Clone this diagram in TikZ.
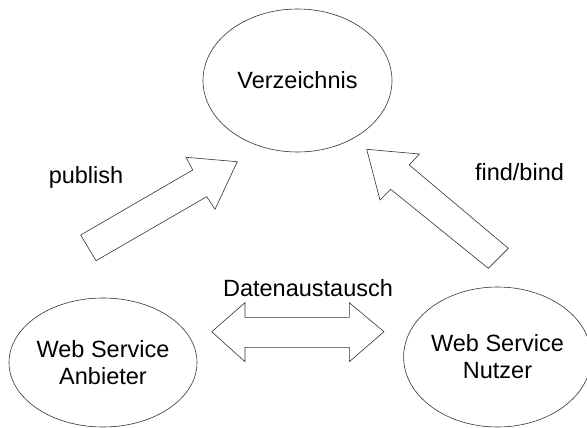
\documentclass[tikz,border=0pt]{standalone}
\usepackage{fontspec}
\setmainfont{Liberation Sans}
\usetikzlibrary{shapes.geometric}
\begin{document}
\begin{tikzpicture}[x=1pt,y=-1pt,
  txt/.style={font=\fontsize{23.5}{27}\selectfont, inner sep=0pt},
  oval/.style={ellipse, draw=black!80, line width=0.6pt, inner sep=0pt, align=center, font=\fontsize{23.5}{27}\selectfont},
  blockarrow/.style={draw=black!80, line width=0.6pt, fill=white, line join=miter}]
\useasboundingbox (0,0) rectangle (587,428);
\fill[white] (0,0) rectangle (587,428);
% ellipses
\node[oval, minimum width=189pt, minimum height=143pt] (verz) at (297.5,80.5) {Verzeichnis};
\node[oval, minimum width=188pt, minimum height=129pt] (anb) at (103,362.5) {Web Service\\Anbieter};
\node[oval, minimum width=181pt, minimum height=140pt] (nutz) at (497.5,357) {Web Service\\Nutzer};
% publish arrow
\draw[blockarrow] (80.7,235) -- (192.7,170) -- (186,157.3) -- (237.3,161.7) -- (215,209.3) -- (206.7,196.7) -- (96,260.7) -- cycle;
% find/bind arrow
\draw[blockarrow] (366.7,149.3) -- (419.3,154) -- (409.3,165) -- (508.3,248.3) -- (488.3,268.3) -- (390.7,189.3) -- (380,200) -- cycle;
% Datenaustausch double arrow
\draw[blockarrow] (211.7,331.7) -- (245,302.7) -- (245,317.3) -- (349.3,317.3) -- (349.3,302.7) -- (384,331.7) -- (349.3,361.7) -- (349.3,347.3) -- (245,347.3) -- (245,361.7) -- cycle;
% labels
\node[txt, anchor=base] (pub) at (86,183) {publish};
\node[txt, anchor=base] (fb) at (519.5,180) {find/bind};
\node[txt, anchor=base] (da) at (308,296) {Datenaustausch};
\end{tikzpicture}
\end{document}
